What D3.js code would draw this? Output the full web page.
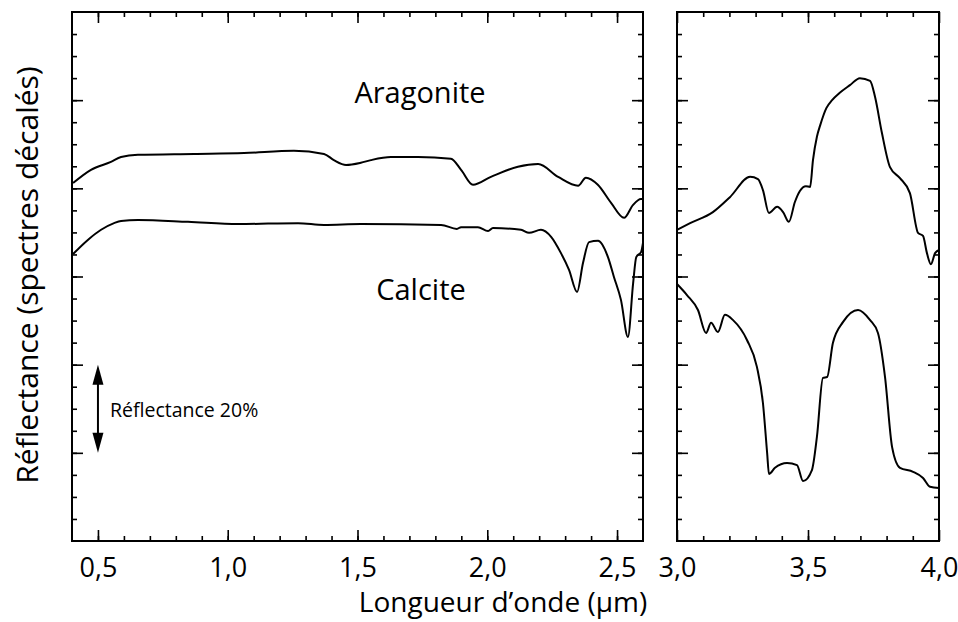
<!DOCTYPE html>
<html>
<head>
<meta charset="utf-8">
<script src="https://cdn.jsdelivr.net/npm/d3@7"></script>
<style>
  body { margin: 0; background: #fff; }
  text { font-family: "Open Sans", "Noto Sans", sans-serif; fill: #000; }
</style>
</head>
<body>
<div id="chart"></div>
<script>
// Spectres de réflectance décalés : aragonite et calcite
// (longueur d'onde en µm, réflectance sans unité)

let width = 958;
let height = 622;

// panneau gauche, 0.4 - 2.6 µm
let aragoniteLeftWl = [0.404, 0.473, 0.550, 0.589, 0.654, 0.870, 1.063, 1.255, 1.371, 1.409,
  1.456, 1.513, 1.552, 1.629, 1.733, 1.860, 1.899, 1.945, 2.014, 2.118,
  2.196, 2.273, 2.350, 2.380, 2.426, 2.477, 2.527, 2.561, 2.592, 2.600];
let aragoniteLeftR = [0.812, 0.842, 0.860, 0.871, 0.876, 0.878, 0.880, 0.885, 0.878, 0.864,
  0.853, 0.858, 0.864, 0.871, 0.871, 0.867, 0.842, 0.808, 0.826, 0.849,
  0.855, 0.826, 0.806, 0.824, 0.808, 0.767, 0.733, 0.762, 0.776, 0.776];

let calciteLeftWl = [0.404, 0.461, 0.512, 0.562, 0.589, 0.654, 0.847, 1.040, 1.271, 1.371,
  1.513, 1.822, 1.883, 1.899, 1.964, 2.003, 2.022, 2.130, 2.161, 2.207,
  2.246, 2.284, 2.315, 2.346, 2.369, 2.392, 2.427, 2.465, 2.488, 2.515,
  2.542, 2.562, 2.574, 2.593, 2.600];
let calciteLeftR = [0.651, 0.683, 0.706, 0.721, 0.726, 0.728, 0.724, 0.719, 0.721, 0.717,
  0.719, 0.717, 0.708, 0.712, 0.712, 0.703, 0.710, 0.706, 0.699, 0.706,
  0.690, 0.653, 0.615, 0.565, 0.631, 0.678, 0.681, 0.644, 0.599, 0.547,
  0.463, 0.585, 0.644, 0.656, 0.676];

// panneau droit, 3.0 - 4.0 µm
let aragoniteRightWl = [3.000, 3.050, 3.137, 3.202, 3.279, 3.309, 3.328, 3.351, 3.382, 3.405,
  3.427, 3.450, 3.469, 3.492, 3.508, 3.519, 3.534, 3.547, 3.570, 3.592, 3.620, 3.660,
  3.698, 3.737, 3.756, 3.782, 3.813, 3.851, 3.889, 3.920, 3.939, 3.954,
  3.969, 3.985, 4.000];
let aragoniteRightR = [0.706, 0.721, 0.746, 0.780, 0.826, 0.821, 0.796, 0.744, 0.758, 0.746,
  0.724, 0.769, 0.794, 0.805, 0.803, 0.864, 0.917, 0.944, 0.982, 1.000, 1.016, 1.034,
  1.050, 1.044, 1.007, 0.926, 0.848, 0.823, 0.789, 0.699, 0.692, 0.653,
  0.628, 0.653, 0.660];

let calciteRightWl = [3.000, 3.038, 3.080, 3.111, 3.130, 3.156, 3.183, 3.214, 3.267, 3.305,
  3.328, 3.344, 3.351, 3.374, 3.420, 3.458, 3.481, 3.515, 3.534, 3.557,
  3.573, 3.595, 3.634, 3.691, 3.737, 3.767, 3.794, 3.821, 3.851, 3.901,
  3.939, 3.966, 4.000];
let calciteRightR = [0.583, 0.558, 0.524, 0.472, 0.495, 0.474, 0.513, 0.501, 0.456, 0.395,
  0.313, 0.200, 0.152, 0.166, 0.177, 0.172, 0.136, 0.161, 0.236, 0.370,
  0.372, 0.449, 0.497, 0.524, 0.501, 0.472, 0.372, 0.213, 0.166, 0.157,
  0.143, 0.123, 0.120];

let leftMajorTicks = [0.5, 1.0, 1.5, 2.0, 2.5];
let rightMajorTicks = [3.0, 3.5, 4.0];
let mineralLabels = ["Aragonite", "Calcite"];
let arrowWl = 0.5;
let arrowFrom = 0.2;
let arrowTo = 0.4;
let arrowLabel = "Réflectance 20%";
let xTitle = "Longueur d\u2019onde (\u00b5m)";
let yTitle = "Réflectance (spectres décalés)";

////////////////////////////////////////////////////////////////////////
// échelles

let plotTop = 12, plotBottom = 541;

let xLeft = d3.scaleLinear().domain([0.4, 2.6]).range([72, 643]);
let xRight = d3.scaleLinear().domain([3.0, 4.0]).range([677, 939]);
let yScale = d3.scaleLinear().domain([0, 1.2]).range([plotBottom, plotTop]);

let fr = d3.formatLocale({decimal: ",", thousands: " ", grouping: [3], currency: ["", " €"]});
let fmt = fr.format(".1f");

function zip(wl, r) {
  return wl.map(function(w, i) { return {wl: w, r: r[i]}; });
}

let svg = d3.select("#chart")
  .append("svg")
  .attr("width", width)
  .attr("height", height);

////////////////////////////////////////////////////////////////////////
// axes (graduations vers l'intérieur sur les quatre côtés)

function drawPanel(x, majors) {
  let d0 = x.domain()[0], d1 = x.domain()[1];
  let minors = d3.range(Math.round(d0 * 10) + 1, Math.round(d1 * 10)).map(function(v) { return v / 10; });
  let yMinors = d3.range(1, 24).map(function(v) { return v * 0.05; });
  let yMajors = [0.2, 0.4, 0.6, 0.8, 1.0];
  let x0 = x.range()[0], x1 = x.range()[1];

  let g = svg.append("g");

  function clean(sel) { sel.select(".domain").remove(); }

  // bas
  g.append("g").attr("transform", "translate(0," + plotBottom + ")")
    .call(d3.axisBottom(x).tickValues(minors).tickSize(-5).tickFormat(""))
    .call(clean);
  g.append("g").attr("transform", "translate(0," + plotBottom + ")")
    .call(d3.axisBottom(x).tickValues(majors).tickSize(-11).tickPadding(17).tickFormat(fmt))
    .call(clean)
    .selectAll("text").attr("font-size", 27).attr("fill", "#000");
  // haut
  g.append("g").attr("transform", "translate(0," + plotTop + ")")
    .call(d3.axisTop(x).tickValues(minors).tickSize(-5).tickFormat(""))
    .call(clean);
  g.append("g").attr("transform", "translate(0," + plotTop + ")")
    .call(d3.axisTop(x).tickValues(majors).tickSize(-11).tickFormat(""))
    .call(clean);
  // gauche et droite
  [[d3.axisLeft, x0], [d3.axisRight, x1]].forEach(function(p) {
    g.append("g").attr("transform", "translate(" + p[1] + ",0)")
      .call(p[0](yScale).tickValues(yMinors).tickSize(-5).tickFormat(""))
      .call(clean);
    g.append("g").attr("transform", "translate(" + p[1] + ",0)")
      .call(p[0](yScale).tickValues(yMajors).tickSize(-11).tickFormat(""))
      .call(clean);
  });

  g.selectAll(".tick line").attr("stroke", "#000").attr("stroke-width", 1.6);
  g.selectAll("text").attr("font-family", null);

  g.append("rect")
    .attr("x", x0).attr("y", plotTop)
    .attr("width", x1 - x0).attr("height", plotBottom - plotTop)
    .attr("fill", "none")
    .attr("stroke", "#000")
    .attr("stroke-width", 2);
}

drawPanel(xLeft, leftMajorTicks);
drawPanel(xRight, rightMajorTicks);

////////////////////////////////////////////////////////////////////////
// spectres

function drawSpectrum(x, data) {
  let line = d3.line()
    .x(function(d) { return x(d.wl); })
    .y(function(d) { return yScale(d.r); })
    .curve(d3.curveMonotoneX);
  svg.append("path")
    .datum(data)
    .attr("d", line)
    .attr("fill", "none")
    .attr("stroke", "#000")
    .attr("stroke-width", 2)
    .attr("stroke-linejoin", "round");
}

drawSpectrum(xLeft, zip(aragoniteLeftWl, aragoniteLeftR));
drawSpectrum(xLeft, zip(calciteLeftWl, calciteLeftR));
drawSpectrum(xRight, zip(aragoniteRightWl, aragoniteRightR));
drawSpectrum(xRight, zip(calciteRightWl, calciteRightR));

////////////////////////////////////////////////////////////////////////
// textes

svg.append("text")
  .attr("x", 420).attr("y", 103)
  .attr("text-anchor", "middle")
  .attr("font-size", 29)
  .text(mineralLabels[0]);
svg.append("text")
  .attr("x", 421).attr("y", 300)
  .attr("text-anchor", "middle")
  .attr("font-size", 29)
  .text(mineralLabels[1]);

svg.append("text")
  .attr("x", 503).attr("y", 612)
  .attr("text-anchor", "middle")
  .attr("font-size", 28)
  .text(xTitle);

svg.append("text")
  .attr("transform", "translate(38,275) rotate(-90)")
  .attr("text-anchor", "middle")
  .attr("font-size", 30)
  .text(yTitle);

// flèche d'échelle
let ax = xLeft(arrowWl);
let yA = yScale(arrowTo), yB = yScale(arrowFrom);
let headLen = 20, headW = 5.5;
svg.append("line")
  .attr("x1", ax).attr("x2", ax)
  .attr("y1", yA + headLen - 2).attr("y2", yB - headLen + 2)
  .attr("stroke", "#000").attr("stroke-width", 2);
svg.append("path")
  .attr("d", "M" + ax + "," + yA + "L" + (ax - headW) + "," + (yA + headLen) + "L" + (ax + headW) + "," + (yA + headLen) + "Z")
  .attr("fill", "#000");
svg.append("path")
  .attr("d", "M" + ax + "," + yB + "L" + (ax - headW) + "," + (yB - headLen) + "L" + (ax + headW) + "," + (yB - headLen) + "Z")
  .attr("fill", "#000");
svg.append("text")
  .attr("x", 110).attr("y", 417)
  .attr("font-size", 19.5)
  .text(arrowLabel);
</script>
</body>
</html>
